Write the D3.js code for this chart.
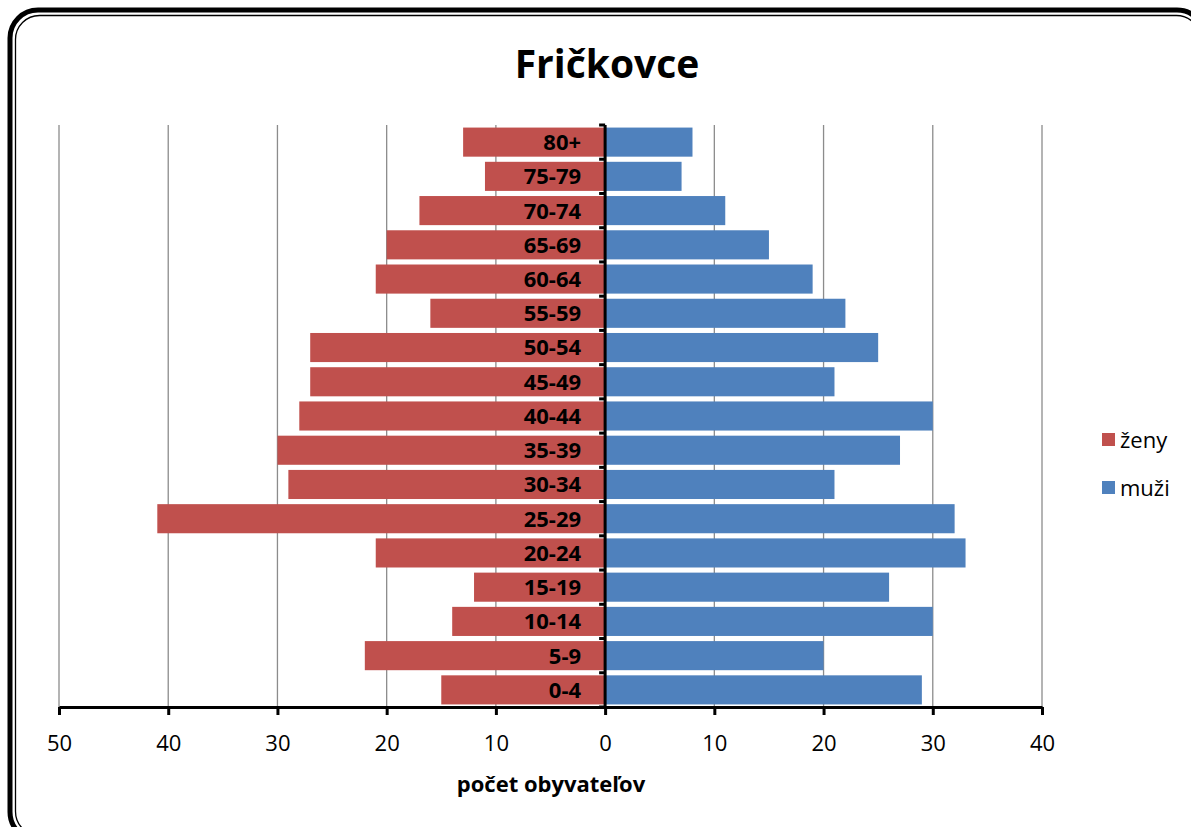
<!DOCTYPE html>
<html>
<head>
<meta charset="utf-8">
<script src="https://cdn.jsdelivr.net/npm/d3@7"></script>
<style>
  body { margin: 0; background: #fff; }
  svg { display: block; font-family: "Open Sans", "Noto Sans", sans-serif; }
</style>
</head>
<body>
<script>
// age groups, bottom to top
const ageGroups = ['0-4', '5-9', '10-14', '15-19', '20-24', '25-29', '30-34', '35-39',
  '40-44', '45-49', '50-54', '55-59', '60-64', '65-69', '70-74', '75-79', '80+'];
const zeny = [15, 22, 14, 12, 21, 41, 29, 30, 28, 27, 27, 16, 21, 20, 17, 11, 13];
const muzi = [29, 20, 30, 26, 33, 32, 21, 27, 30, 21, 25, 22, 19, 15, 11, 7, 8];
const xTicks = [-50, -40, -30, -20, -10, 0, 10, 20, 30, 40];
const seriesNames = ['ženy', 'muži'];
const colors = ['#C0504D', '#4F81BD'];

const width = 1191, height = 827;
const plot = {left: 59, right: 1042, top: 125, bottom: 707};

const svg = d3.select('body').append('svg')
    .attr('width', width)
    .attr('height', height);

// double frame round the chart
svg.append('rect')
    .attr('x', 10).attr('y', 10)
    .attr('width', 1195).attr('height', 830)
    .attr('rx', 28)
    .attr('fill', 'none').attr('stroke', '#000').attr('stroke-width', 5);
svg.append('rect')
    .attr('x', 15.5).attr('y', 15.5)
    .attr('width', 1185).attr('height', 820)
    .attr('rx', 24)
    .attr('fill', 'none').attr('stroke', '#000').attr('stroke-width', 1.3);

const x = d3.scaleLinear().domain([-50, 40]).range([plot.left, plot.right]);
const y = d3.scaleBand().domain(ageGroups.slice().reverse())
    .range([plot.top, plot.bottom]).paddingInner(0.15).paddingOuter(0.075);

// vertical gridlines
svg.append('g').selectAll('line')
    .data(xTicks.filter(d => d !== 0))
    .join('line')
    .attr('x1', d => x(d)).attr('x2', d => x(d))
    .attr('y1', plot.top).attr('y2', plot.bottom)
    .attr('stroke', '#8c8c8c').attr('stroke-width', 1.3);

// bars
const rows = ageGroups.map((g, i) => ({g, z: zeny[i], m: muzi[i]}));
svg.append('g').selectAll('rect')
    .data(rows).join('rect')
    .attr('x', d => x(-d.z)).attr('width', d => x(0) - x(-d.z))
    .attr('y', d => y(d.g)).attr('height', y.bandwidth())
    .attr('fill', colors[0]);
svg.append('g').selectAll('rect')
    .data(rows).join('rect')
    .attr('x', x(0)).attr('width', d => x(d.m) - x(0))
    .attr('y', d => y(d.g)).attr('height', y.bandwidth())
    .attr('fill', colors[1]);

// age labels inside the red bars
svg.append('g').selectAll('text')
    .data(rows).join('text')
    .attr('x', x(0) - 24)
    .attr('y', d => y(d.g) + y.bandwidth() / 2)
    .attr('dy', '0.36em')
    .attr('text-anchor', 'end')
    .attr('font-size', 22).attr('font-weight', 'bold')
    .text(d => d.g);

// central axis with small ticks at band edges
const step = (plot.bottom - plot.top) / ageGroups.length;
svg.append('line')
    .attr('x1', x(0)).attr('x2', x(0))
    .attr('y1', plot.top).attr('y2', plot.bottom)
    .attr('stroke', '#000').attr('stroke-width', 3);
svg.append('g').selectAll('line')
    .data(d3.range(ageGroups.length + 1))
    .join('line')
    .attr('x1', x(0) - 6).attr('x2', x(0))
    .attr('y1', i => plot.top + i * step).attr('y2', i => plot.top + i * step)
    .attr('stroke', '#000').attr('stroke-width', 3);

// bottom axis
const xAxis = svg.append('g')
    .attr('transform', `translate(0,${plot.bottom})`)
    .call(d3.axisBottom(x).tickValues(xTicks).tickSize(8).tickSizeOuter(0)
        .tickFormat(d => Math.abs(d)));
xAxis.select('.domain').attr('stroke-width', 3);
xAxis.selectAll('.tick line').attr('stroke-width', 3);
xAxis.selectAll('.tick text')
    .attr('font-size', 22).attr('font-family', '"Open Sans", "Noto Sans", sans-serif')
    .attr('fill', '#000').attr('y', 28);

// titles
svg.append('text')
    .attr('x', 607).attr('y', 78)
    .attr('text-anchor', 'middle')
    .attr('font-size', 39).attr('font-weight', 'bold')
    .text('Fričkovce');
svg.append('text')
    .attr('x', 551).attr('y', 792)
    .attr('text-anchor', 'middle')
    .attr('font-size', 22).attr('font-weight', 'bold')
    .text('počet obyvateľov');

// legend
const legend = svg.append('g').selectAll('g')
    .data(seriesNames).join('g')
    .attr('transform', (d, i) => `translate(1102,${433 + i * 48})`);
legend.append('rect')
    .attr('width', 13).attr('height', 13)
    .attr('fill', (d, i) => colors[i]);
legend.append('text')
    .attr('x', 18).attr('y', 7).attr('dy', '0.36em')
    .attr('font-size', 22)
    .text(d => d);
</script>
</body>
</html>
